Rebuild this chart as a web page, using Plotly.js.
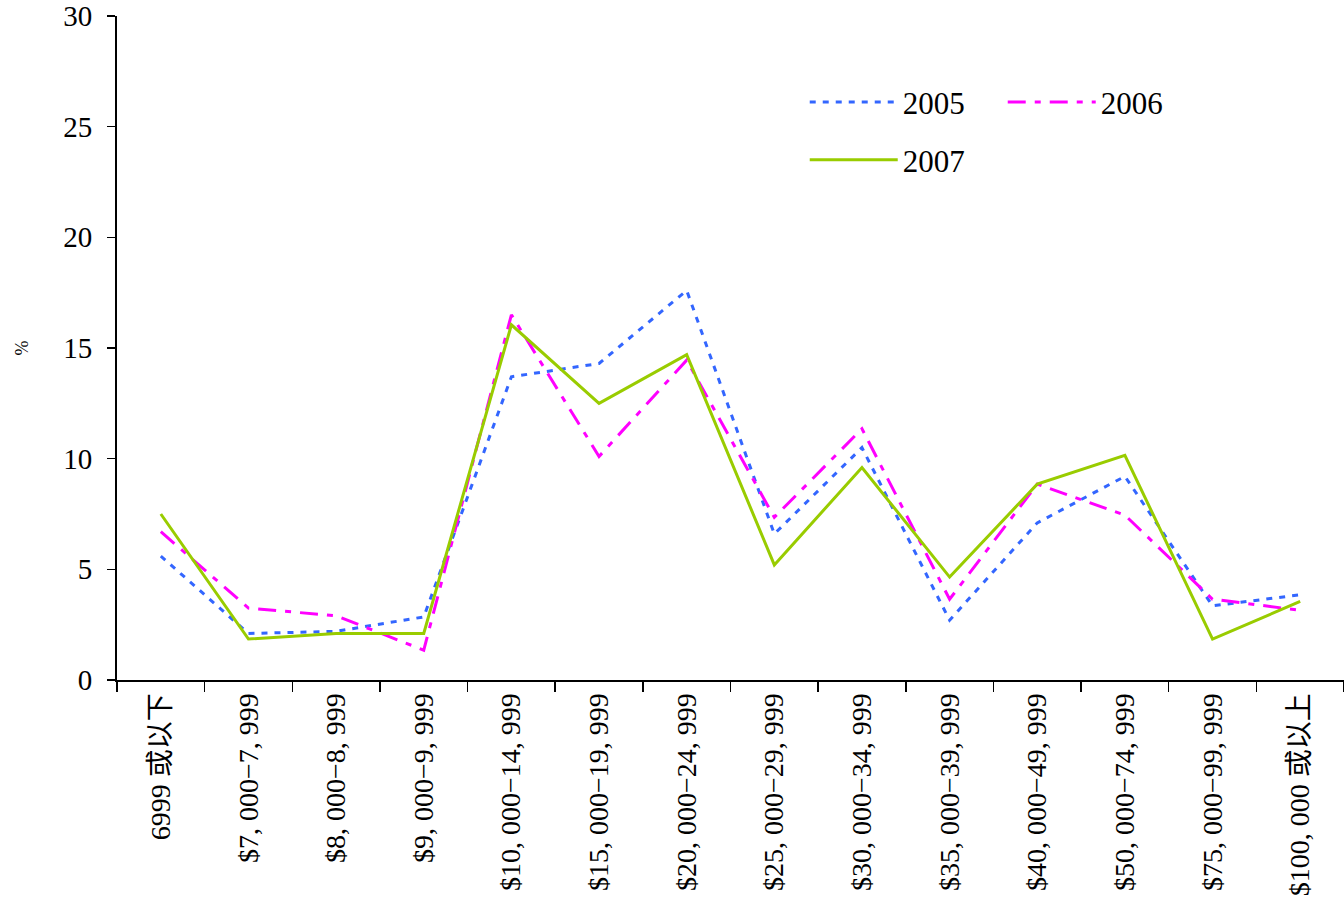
<!DOCTYPE html>
<html>
<head>
<meta charset="utf-8">
<script src="https://cdn.plot.ly/plotly-3.0.1.min.js"></script>
<style>html,body{margin:0;padding:0;background:#fff;}#chart{width:1344px;height:923px;}</style>
</head>
<body>
<div id="chart"></div>
<script>
const categories = [
  "6999 或以下", "$7, 000−7, 999", "$8, 000−8, 999", "$9, 000−9, 999",
  "$10, 000−14, 999", "$15, 000−19, 999", "$20, 000−24, 999", "$25, 000−29, 999",
  "$30, 000−34, 999", "$35, 000−39, 999", "$40, 000−49, 999", "$50, 000−74, 999",
  "$75, 000−99, 999", "$100, 000 或以上"
];
const seriesNames = ["2005", "2006", "2007"];
const values2005 = [5.6, 2.1, 2.2, 2.85, 13.7, 14.3, 17.6, 6.6, 10.5, 2.7, 7.1, 9.2, 3.35, 3.85];
const values2006 = [6.7, 3.25, 2.9, 1.35, 16.5, 10.1, 14.45, 7.35, 11.35, 3.65, 8.85, 7.45, 3.65, 3.15];
const values2007 = [7.5, 1.85, 2.1, 2.1, 16.05, 12.5, 14.7, 5.2, 9.6, 4.65, 8.85, 10.15, 1.85, 3.55];
const yTicks = [0, 5, 10, 15, 20, 25, 30];

const FONT = '"Liberation Serif", "Noto Sans CJK SC", serif';

const traces = [
  {x: categories, y: values2005, name: seriesNames[0], type: 'scatter', mode: 'lines',
   line: {color: '#3366FF', width: 3, dash: '6px,7px'}, legend: 'legend'},
  {x: categories, y: values2006, name: seriesNames[1], type: 'scatter', mode: 'lines',
   line: {color: '#FF00FF', width: 3, dash: '18px,9px,6px,9px'}, legend: 'legend'},
  {x: categories, y: values2007, name: seriesNames[2], type: 'scatter', mode: 'lines',
   line: {color: '#99CC00', width: 3}, legend: 'legend2'}
];

const layout = {
  width: 1344, height: 923,
  margin: {l: 117, r: 0, t: 16, b: 243},
  paper_bgcolor: '#fff', plot_bgcolor: '#fff',
  font: {family: FONT, color: '#000', size: 24},
  showlegend: true,
  xaxis: {
    type: 'category', range: [-0.5, 13.5], automargin: false,
    showline: true, linecolor: '#000', linewidth: 2,
    ticks: 'outside', tickson: 'boundaries', ticklen: 10, tickwidth: 1.5, tickcolor: '#000',
    tickangle: -90, showgrid: false, zeroline: false,
    tickfont: {family: FONT, size: 28, color: '#000'}
  },
  yaxis: {
    range: [0, 30], tickvals: yTicks, ticktext: yTicks.map(String), automargin: false,
    showline: true, linecolor: '#000', linewidth: 2,
    ticks: 'outside', ticklen: 8, tickwidth: 1.5, tickcolor: '#000',
    ticklabelstandoff: 9,
    showgrid: false, zeroline: false,
    tickfont: {family: FONT, size: 29, color: '#000'},
    title: {text: '%', font: {family: FONT, size: 18, color: '#000'}, standoff: 30}
  },
  legend: {
    orientation: 'h', x: 0.5605, y: 0.870, xanchor: 'left', yanchor: 'middle',
    bgcolor: 'rgba(0,0,0,0)', entrywidth: 95, itemwidth: 88,
    font: {family: FONT, size: 31, color: '#000'}
  },
  legend2: {
    orientation: 'h', x: 0.5605, y: 0.783, xanchor: 'left', yanchor: 'middle',
    bgcolor: 'rgba(0,0,0,0)', itemwidth: 88,
    font: {family: FONT, size: 31, color: '#000'}
  }
};

Plotly.newPlot('chart', traces, layout, {displayModeBar: false, staticPlot: true});
</script>
</body>
</html>
